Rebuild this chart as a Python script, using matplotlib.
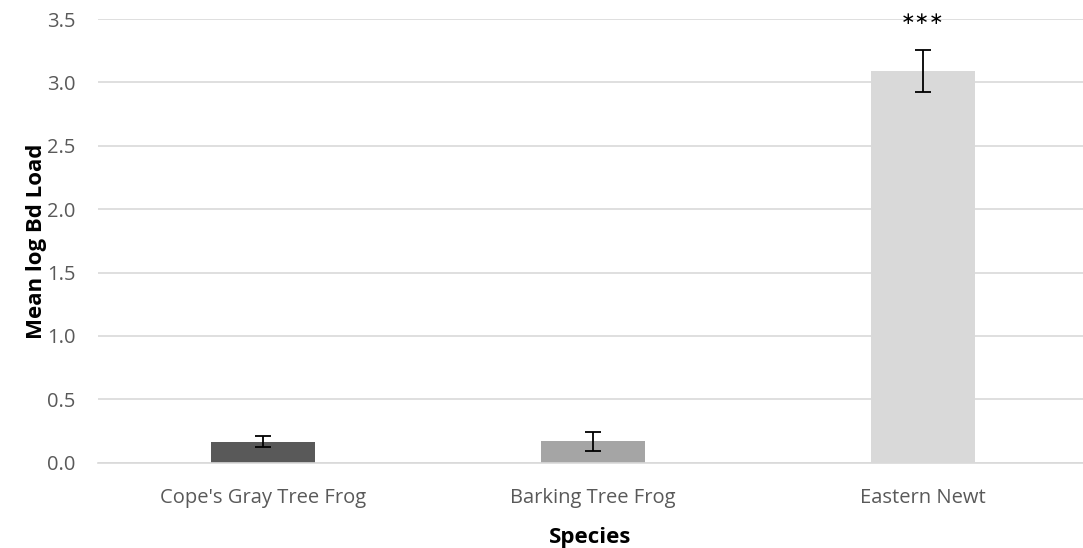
import matplotlib
matplotlib.use("Agg")
import matplotlib.pyplot as plt

species = ["Cope's Gray Tree Frog", "Barking Tree Frog", "Eastern Newt"]
mean_load = [0.165, 0.17, 3.09]
err_load = [0.043, 0.075, 0.165]
bar_colors = ["#595959", "#A5A5A5", "#D9D9D9"]
sig_marks = ["", "", "∗∗∗"]

plt.rcParams["font.family"] = ["Open Sans", "DejaVu Sans"]

fig = plt.figure(figsize=(10.83, 5.48), dpi=100)
ax = fig.add_axes([0.0905, 0.1557, 0.9095, 0.8096])

x = range(len(species))
ax.bar(x, mean_load, width=0.315, color=bar_colors, zorder=2)
ax.errorbar(x, mean_load, yerr=err_load, fmt="none", ecolor="black",
            elinewidth=1.3, capsize=6, capthick=1.3, zorder=3)
for i, s in enumerate(sig_marks):
    if s:
        ax.text(i, 3.5, s, ha="center", va="center", fontsize=12.5,
                family="DejaVu Sans", color="black", zorder=4)

ax.set_xlim(-0.5, 2.5 - 5 / 330)
ax.set_ylim(0, 3.5)
ax.set_yticks([0, 0.5, 1.0, 1.5, 2.0, 2.5, 3.0, 3.5])
ax.set_yticklabels([f"{v:.1f}" for v in ax.get_yticks()])
ax.set_xticks(list(x))
ax.set_xticklabels(species)
ax.yaxis.grid(True, color="#D9D9D9", linewidth=1.2, zorder=0)
ax.set_axisbelow(True)
for side in ["top", "right", "left"]:
    ax.spines[side].set_visible(False)
ax.spines["bottom"].set_color("#D9D9D9")
ax.spines["bottom"].set_linewidth(1.2)
ax.tick_params(axis="both", length=0, labelsize=14.5, colors="#595959")
ax.tick_params(axis="y", pad=16)
ax.tick_params(axis="x", pad=18)
ax.set_xlabel("Species", fontsize=16, fontweight="bold", labelpad=14)
ax.set_ylabel("Mean log Bd Load", fontsize=16, fontweight="bold", labelpad=0)

fig.savefig("out.png", dpi=100)
